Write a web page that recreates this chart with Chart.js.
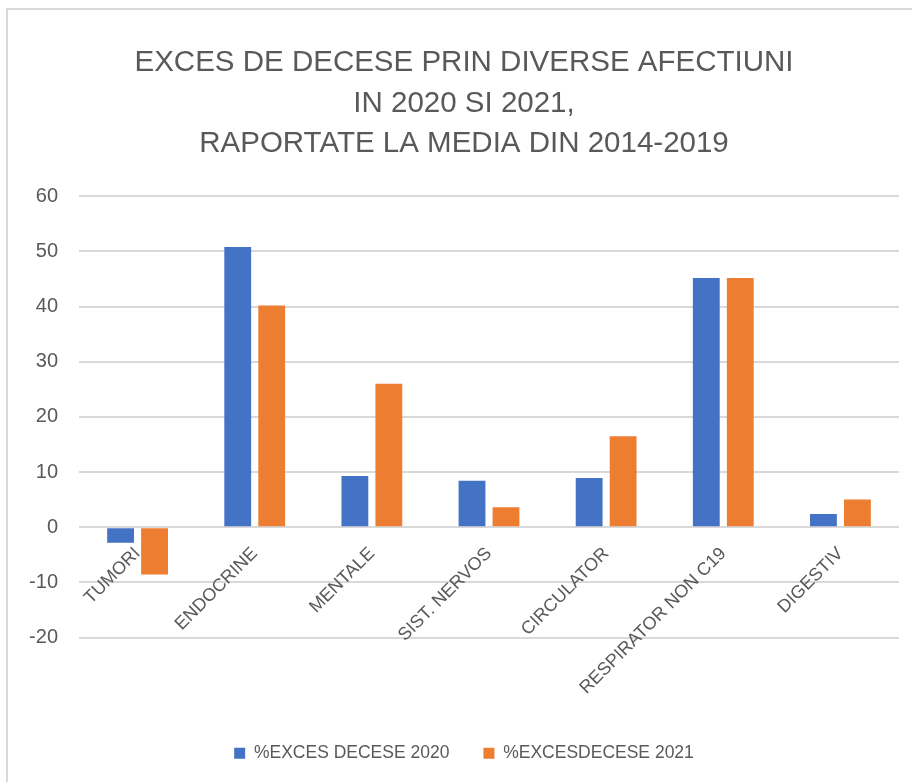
<!DOCTYPE html>
<html>
<head>
<meta charset="utf-8">
<script src="https://cdn.jsdelivr.net/npm/chart.js@4"></script>
<style>
  html, body { margin: 0; padding: 0; background: #ffffff; }
  #frame {
    position: absolute;
    left: 6px;
    top: 8px;
    width: 906px;
    height: 774px;
    border-left: 2px solid #d9d9d9;
    border-top: 2px solid #d9d9d9;
    box-sizing: border-box;
  }
  #wrap { position: absolute; left: 0; top: 0; width: 912px; height: 782px; }
</style>
</head>
<body>
<div id="frame"></div>
<div id="wrap"><canvas id="chart"></canvas></div>
<script>
const categories = ["TUMORI", "ENDOCRINE", "MENTALE", "SIST. NERVOS", "CIRCULATOR", "RESPIRATOR NON C19", "DIGESTIV"];
const exces2020 = [-2.8, 50.8, 9.3, 8.4, 8.9, 45.2, 2.4];
const exces2021 = [-8.6, 40.2, 26.0, 3.6, 16.5, 45.2, 5.0];
const yTicks = [-20, -10, 0, 10, 20, 30, 40, 50, 60];
const titleLines = ["EXCES DE DECESE PRIN DIVERSE AFECTIUNI", "IN 2020 SI 2021,", "RAPORTATE LA MEDIA DIN 2014-2019"];

const textColor = "#595959";
const fontFamily = "'Liberation Sans', Arial, sans-serif";

new Chart(document.getElementById("chart"), {
  type: "bar",
  data: {
    labels: categories,
    datasets: [
      {
        label: "%EXCES DECESE 2020",
        data: exces2020,
        backgroundColor: "#4472C4",
        borderWidth: 0,
        categoryPercentage: 0.58,
        barPercentage: 0.79,
      },
      {
        label: "%EXCESDECESE 2021",
        data: exces2021,
        backgroundColor: "#ED7D31",
        borderWidth: 0,
        categoryPercentage: 0.58,
        barPercentage: 0.79,
      },
    ],
  },
  options: {
    responsive: true,
    maintainAspectRatio: false,
    animation: false,
    layout: {
      padding: { left: 29, right: 13, top: 43, bottom: 10 },
    },
    plugins: {
      title: {
        display: true,
        text: titleLines,
        color: textColor,
        font: { family: fontFamily, size: 29.5, weight: "normal", lineHeight: 1.37 },
        padding: { top: 0, bottom: 32 },
      },
      legend: {
        position: "bottom",
        // empty title only to leave the gap under the axis labels
        title: { display: true, text: " ", font: { size: 1, lineHeight: 1 }, padding: { top: 72, bottom: 0 } },
        labels: {
          color: textColor,
          font: { family: fontFamily, size: 17.5 },
          boxWidth: 11,
          boxHeight: 11,
          padding: 34,
        },
      },
      tooltip: { enabled: false },
    },
    scales: {
      x: {
        position: { y: 0 },
        grid: { display: false },
        border: { display: false },
        afterFit: (scale) => {
          // labels may hang over the plot edge, like in Excel
          scale.paddingLeft = 0;
          scale.paddingRight = 0;
        },
        ticks: {
          color: textColor,
          font: { family: fontFamily, size: 18 },
          maxRotation: 45,
          minRotation: 45,
          padding: 8,
          autoSkip: false,
        },
      },
      y: {
        min: -20,
        max: 60,
        afterBuildTicks: (scale) => {
          scale.ticks = yTicks.map((v) => ({ value: v }));
        },
        afterFit: (scale) => {
          scale.width = 50;
        },
        grid: { color: "#d9d9d9", lineWidth: 2, drawTicks: false },
        border: { display: false },
        ticks: {
          color: textColor,
          font: { family: fontFamily, size: 20 },
          padding: 21,
        },
      },
    },
  },
});
</script>
</body>
</html>
